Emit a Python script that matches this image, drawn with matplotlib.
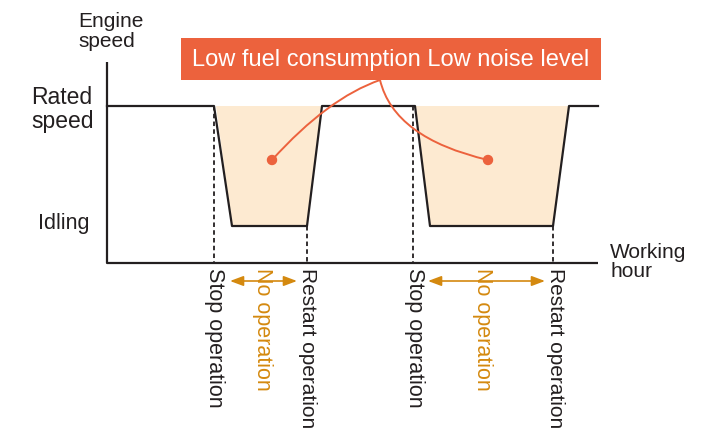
import matplotlib
matplotlib.use('Agg')
import matplotlib.pyplot as plt
from matplotlib.patches import Rectangle, Circle, PathPatch
from matplotlib.path import Path

plt.rcParams['font.family'] = ['Liberation Sans', 'DejaVu Sans']

# diagram drawn in pixel units of the 713x432 canvas
# engine speed profile (time, speed)
speed_t = [107, 214, 232, 307, 322, 415, 430, 553, 569, 598]
speed_y = [106, 106, 226, 226, 106, 106, 226, 226, 106, 106]

# shaded "no operation" troughs: (x of top left, bottom left, bottom right, top right)
troughs = [(216, 232, 307, 322), (416, 430, 553, 569)]
rated_y = 106
idle_y = 226
base_y = 263

# dashed markers: (x, top y)
markers = [(214, 106), (307, 226), (413, 106), (553, 226)]

# bottom event labels: (x, text, colour)
events = [(214, 'Stop operation', '#231f20'),
          (263, 'No operation', '#d4890f'),
          (308, 'Restart operation', '#231f20'),
          (414, 'Stop operation', '#231f20'),
          (483, 'No operation', '#d4890f'),
          (556, 'Restart operation', '#231f20')]
arrows = [(230, 297), (428, 545)]

dark = '#231f20'
accent = '#ec623d'
gold = '#d4890f'

fig = plt.figure(figsize=(7.13, 4.32), dpi=100)
ax = fig.add_axes([0, 0, 1, 1])
ax.set_xlim(0, 713)
ax.set_ylim(432, 0)
ax.axis('off')

for a, b, c, d in troughs:
    ax.fill([a, b, c, d], [rated_y, idle_y, idle_y, rated_y], color='#fdead1', lw=0, zorder=1)

# axes lines
ax.plot([107, 107, 598], [62, base_y, base_y], color=dark, lw=1.6, zorder=3, solid_capstyle='butt')
ax.plot(speed_t, speed_y, color=dark, lw=1.6, zorder=3)

for x, top in markers:
    ax.plot([x, x], [top, base_y], color=dark, lw=1.3, ls=(0, (2.5, 1.8)), zorder=2)

# callout box
ax.add_patch(Rectangle((181, 38), 420, 42, color=accent, lw=0, zorder=4))
ax.text(391, 60, 'Low fuel consumption Low noise level', color='white', fontsize=17,
        ha='center', va='center', zorder=5)

# leader curves from the box to the troughs
start = (380, 80)
for ctrl, end in [((328, 98), (272, 160)), ((394, 138), (488, 160))]:
    p = Path([start, ctrl, end], [Path.MOVETO, Path.CURVE3, Path.CURVE3])
    ax.add_patch(PathPatch(p, fc='none', ec=accent, lw=1.4, zorder=4))
    ax.add_patch(Circle(end, 4.5, color=accent, zorder=5))

# axis labels
ax.text(78, 27, 'Engine', fontsize=15, color=dark, va='baseline')
ax.text(78, 47, 'speed', fontsize=15, color=dark, va='baseline')
ax.text(31, 104, 'Rated', fontsize=16.5, color=dark, va='baseline')
ax.text(31, 128, 'speed', fontsize=16.5, color=dark, va='baseline')
ax.text(38, 229, 'Idling', fontsize=15.5, color=dark, va='baseline')
ax.text(610, 258, 'Working', fontsize=15, color=dark, va='baseline')
ax.text(610, 277, 'hour', fontsize=15, color=dark, va='baseline')

for x, label, col in events:
    size = 15 if label.startswith('Restart') else 15.5
    ax.text(x, 268, label, fontsize=size, color=col, rotation=-90, ha='center', va='top')

for x0, x1 in arrows:
    ax.annotate('', xy=(x1, 281), xytext=(x0, 281),
                arrowprops=dict(arrowstyle='<|-|>,head_length=0.8,head_width=0.3',
                                color=gold, lw=1.2, shrinkA=0, shrinkB=0))

fig.savefig('out.png', dpi=100)
